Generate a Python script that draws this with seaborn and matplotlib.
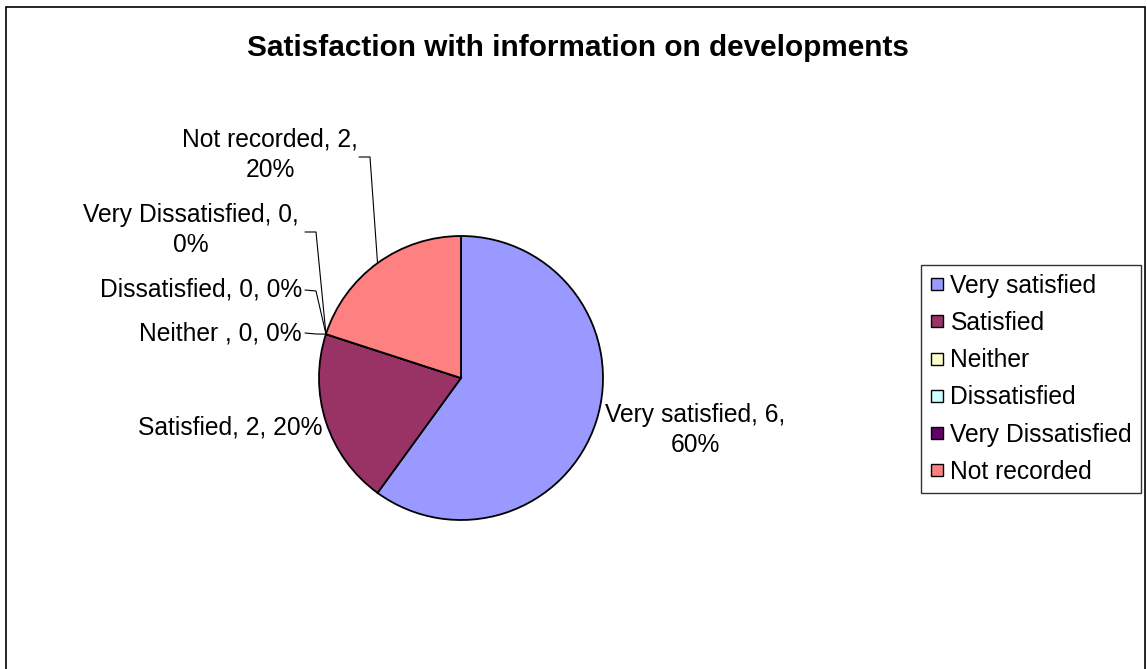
import matplotlib
matplotlib.use("Agg")
import matplotlib.pyplot as plt
import seaborn as sns
import numpy as np
from matplotlib.lines import Line2D
from matplotlib.patches import Rectangle

categories = ["Very satisfied", "Satisfied", "Neither", "Dissatisfied",
              "Very Dissatisfied", "Not recorded"]
label_names = ["Very satisfied", "Satisfied", "Neither ", "Dissatisfied",
               "Very Dissatisfied", "Not recorded"]
counts = [6, 2, 0, 0, 0, 2]
colors = ["#9999FF", "#993366", "#FFFFCC", "#CCFFFF", "#660066", "#FF8080"]

sns.set_theme(style="white")
plt.rcParams["font.family"] = ["Liberation Sans", "DejaVu Sans"]
plt.rcParams["text.color"] = "black"

W, H = 1147, 669
fig = plt.figure(figsize=(W / 100, H / 100), dpi=100)

# chart area border (Excel style)
fig.patches.append(Rectangle((6 / W, -0.1), (1145 - 6) / W, 1.1 - 7 / H,
                             transform=fig.transFigure, fill=False,
                             edgecolor="black", linewidth=1.2))

fig.text(578 / W, 1 - 48 / H, "Satisfaction with information on developments",
         ha="center", va="center", fontsize=21.4, fontweight="bold")

cx, cy, r = 461, 378, 142
ax = fig.add_axes([(cx - r) / W, (H - cy - r) / H, 2 * r / W, 2 * r / H])
palette = sns.color_palette(colors)
wedges, _ = ax.pie(counts, colors=palette, startangle=90, counterclock=False,
                   wedgeprops=dict(edgecolor="black", linewidth=1.3))
ax.set_xlim(-1, 1)
ax.set_ylim(-1, 1)
ax.set_aspect("equal")
ax.axis("off")

total = sum(counts)


def px(x, y):
    # pixel position (from top-left) -> data coords of pie axes
    return (x - cx) / r, (cy - y) / r


def lbl(i, two_lines=False):
    pct = round(100 * counts[i] / total)
    if two_lines:
        return f"{label_names[i]}, {counts[i]},\n{pct}%"
    return f"{label_names[i]}, {counts[i]}, {pct}%"


def edge_point(i):
    w = wedges[i]
    ang = np.deg2rad((w.theta1 + w.theta2) / 2)
    return np.cos(ang), np.sin(ang)


fs = 17.7
ax.text(*px(695, 430), lbl(0, True), ha="center", va="center",
        fontsize=fs, linespacing=1.35)
ax.text(*px(322, 428), lbl(1), ha="right", va="center", fontsize=fs)

# label placement: text x, y, alignment, leader elbow, two lines
for i, (tx, ty, ha, elbow, two) in {
    2: (302, 333, "right", (316, 334), False),
    3: (302, 290, "right", (316, 291), False),
    4: (191, 230, "center", (316, 232), True),
    5: (270, 155, "center", (370, 157), True),
}.items():
    ax.text(*px(tx, ty), lbl(i, two), ha=ha, va="center", fontsize=fs,
            linespacing=1.35)
    start = (305, ty) if not two else (elbow[0] - 11, elbow[1])
    ex, ey = edge_point(i)
    xs = [px(*start)[0], px(*elbow)[0], ex]
    ys = [px(*start)[1], px(*elbow)[1], ey]
    ax.plot(xs, ys, color="black", linewidth=0.8, clip_on=False)

handles = [Line2D([0], [0], marker="s", linestyle="none", markersize=8,
                  markerfacecolor=c, markeredgecolor="black",
                  markeredgewidth=1.0) for c in colors]
leg = fig.legend(handles, categories, loc="upper left",
                 bbox_to_anchor=(921 / W, 1 - 265 / H), borderaxespad=0,
                 fontsize=fs, frameon=True, fancybox=False,
                 edgecolor="black", handlelength=0.6, handletextpad=0.25,
                 labelspacing=0.54, borderpad=0.35)
leg.get_frame().set_linewidth(1.0)

fig.savefig("out.png", dpi=100, facecolor="white")
